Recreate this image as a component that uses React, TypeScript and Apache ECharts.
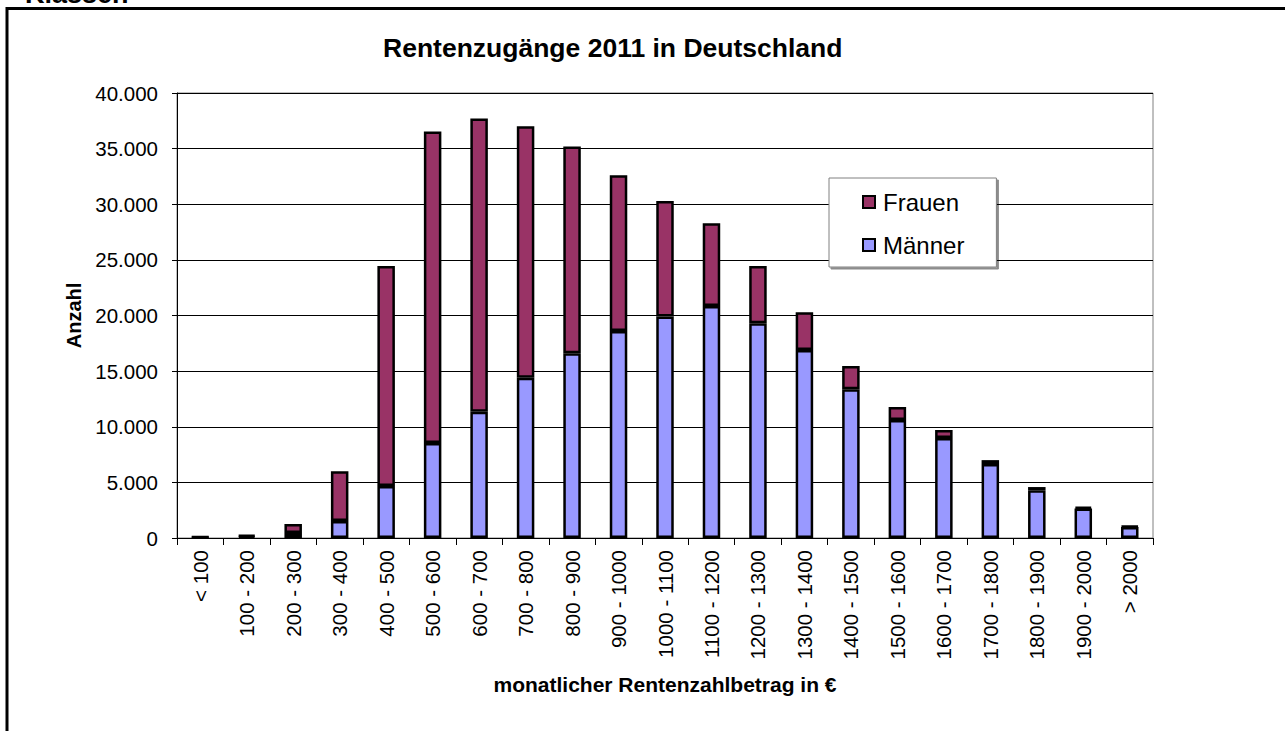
import React, { useEffect, useRef } from "react";
import * as echarts from "echarts";

const categories = [
  "< 100", "100 - 200", "200 - 300", "300 - 400", "400 - 500", "500 - 600",
  "600 - 700", "700 - 800", "800 - 900", "900 - 1000", "1000 - 1100",
  "1100 - 1200", "1200 - 1300", "1300 - 1400", "1400 - 1500", "1500 - 1600",
  "1600 - 1700", "1700 - 1800", "1800 - 1900", "1900 - 2000", "> 2000",
];

const maenner = [
  60, 150, 450, 1530, 4670, 8540, 11350, 14400, 16600, 18600, 19900,
  20850, 19300, 16900, 13370, 10600, 8990, 6650, 4300, 2650, 1000,
];

const frauen = [
  40, 120, 810, 4470, 19780, 28010, 26350, 22600, 18600, 14000, 10400,
  7450, 5150, 3400, 2090, 1180, 710, 350, 280, 150, 80,
];

const title = "Rentenzugänge 2011 in Deutschland";
const xName = "monatlicher Rentenzahlbetrag in €";
const yName = "Anzahl";

const fmt = (v: number) => String(v).replace(/\B(?=(\d{3})+(?!\d))/g, ".");

export default function App() {
  const ref = useRef<HTMLDivElement>(null);
  useEffect(() => {
    if (!ref.current) return;
    const chart = echarts.init(ref.current, undefined, { renderer: "svg" });
    const font = "Liberation Sans, Arial, sans-serif";
    chart.setOption({
      animation: false,
      textStyle: { fontFamily: font },
      title: {
        text: title,
        left: 383,
        top: 34,
        padding: 0,
        textStyle: { fontSize: 26.5, fontWeight: "bold", color: "#000", fontFamily: font },
      },
      graphic: [
        {
          type: "rect",
          shape: { x: 7, y: 8.5, width: 1400, height: 900 },
          style: { fill: "none", stroke: "#000", lineWidth: 3 },
          silent: true,
        },
        {
          type: "text",
          x: 25,
          y: -6,
          style: {
            text: "Klassen",
            font: "bold 27px Liberation Sans, Arial, sans-serif",
            fill: "#000",
            verticalAlign: "middle",
          },
        },
      ],
      legend: {
        data: ["Frauen", "Männer"],
        orient: "vertical",
        left: 829,
        top: 178,
        padding: [12, 32, 10, 33],
        itemGap: 19,
        itemWidth: 12,
        itemHeight: 12,
        icon: "rect",
        backgroundColor: "#fff",
        borderColor: "#808080",
        borderWidth: 1,
        shadowColor: "rgba(0,0,0,0.45)",
        shadowOffsetX: 2,
        shadowOffsetY: 2,
        shadowBlur: 0,
        textStyle: { fontSize: 24, color: "#000", fontFamily: font, padding: [0, 0, 0, 3] },
      },
      grid: {
        left: 177,
        right: 132,
        top: 93,
        bottom: 193,
        show: true,
        borderColor: "#808080",
        borderWidth: 1,
        backgroundColor: "transparent",
      },
      xAxis: {
        type: "category",
        data: categories,
        name: xName,
        nameLocation: "middle",
        nameGap: 136,
        nameTextStyle: { fontSize: 21, fontWeight: "bold", color: "#000", fontFamily: font },
        axisLine: { lineStyle: { color: "#000", width: 1 } },
        axisTick: { show: true, length: 7, interval: 0, lineStyle: { color: "#000" } },
        axisLabel: {
          interval: 0,
          rotate: 90,
          margin: 12,
          fontSize: 20.5,
          color: "#000",
          fontFamily: font,
        },
      },
      yAxis: {
        type: "value",
        min: 0,
        max: 40000,
        interval: 5000,
        name: yName,
        nameLocation: "middle",
        nameGap: 90,
        nameTextStyle: { fontSize: 20, fontWeight: "bold", color: "#000", fontFamily: font },
        axisLine: { show: true, lineStyle: { color: "#000", width: 1 } },
        axisTick: { show: true, length: 5, lineStyle: { color: "#000" } },
        axisLabel: {
          margin: 19,
          fontSize: 20.5,
          color: "#000",
          fontFamily: font,
          formatter: (v: number) => fmt(v),
        },
        splitLine: { show: true, lineStyle: { color: "#000", width: 1 } },
      },
      series: [
        {
          name: "Männer",
          type: "bar",
          stack: "total",
          data: maenner,
          barWidth: 17.5,
          itemStyle: { color: "#9999FF", borderColor: "#000", borderWidth: 2.5 },
        },
        {
          name: "Frauen",
          type: "bar",
          stack: "total",
          data: frauen,
          barWidth: 17.5,
          itemStyle: { color: "#993366", borderColor: "#000", borderWidth: 2.5 },
        },
      ],
    });
    return () => chart.dispose();
  }, []);
  return (
    <div
      ref={ref}
      style={{ position: "absolute", left: 0, top: 0, width: 1285, height: 731, background: "#fff" }}
    />
  );
}
